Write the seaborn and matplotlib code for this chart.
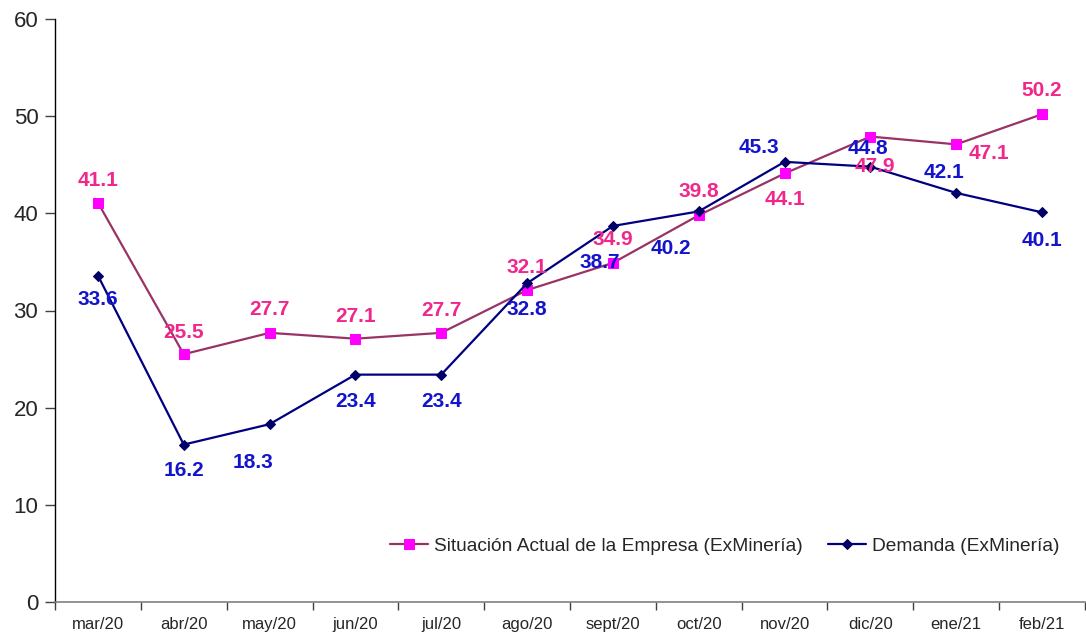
import matplotlib
matplotlib.use("Agg")
import matplotlib.pyplot as plt
import seaborn as sns
import pandas as pd
import numpy as np

months = ["mar/20", "abr/20", "may/20", "jun/20", "jul/20", "ago/20",
          "sept/20", "oct/20", "nov/20", "dic/20", "ene/21", "feb/21"]
situacion = [41.1, 25.5, 27.7, 27.1, 27.7, 32.1, 34.9, 39.8, 44.1, 47.9, 47.1, 50.2]
demanda = [33.6, 16.2, 18.3, 23.4, 23.4, 32.8, 38.7, 40.2, 45.3, 44.8, 42.1, 40.1]
name_sit = "Situación Actual de la Empresa (ExMinería)"
name_dem = "Demanda (ExMinería)"

# label offsets (pixels) relative to each point
off_sit = [(0, -22), (0, -22), (0, -23), (0, -22), (0, -22), (0, -23),
           (0, -23), (0, -24), (0, 26), (4, 30), (33, 9), (0, -24)]
off_dem = [(0, 24), (0, 26), (-17, 38), (0, 27), (0, 27), (0, 26),
           (-13, 37), (-28, 37), (-26, -14), (-2, -18), (-12, -20), (0, 28)]

sns.set_style("white")
plt.rcParams['font.family'] = ['Liberation Sans', 'DejaVu Sans']

fig = plt.figure(figsize=(10.86, 6.36), dpi=100)
ax = fig.add_axes([55/1086, 34/636, 1030/1086, 583/636])

df = pd.DataFrame({"x": np.arange(len(months)), "sit": situacion, "dem": demanda})

sns.lineplot(data=df, x="x", y="sit", ax=ax, color="#993366", linewidth=1.6,
             marker="s", markersize=7, markerfacecolor="#FF00FF",
             markeredgecolor="#FF00FF", label=name_sit)
sns.lineplot(data=df, x="x", y="dem", ax=ax, color="#000080", linewidth=1.6,
             marker="D", markersize=5, markerfacecolor="#000066",
             markeredgecolor="#000066", label=name_dem)

px = 0.72  # pixels -> points at 100 dpi
for i, v in enumerate(situacion):
    dx, dy = off_sit[i]
    ax.annotate(f"{v:.1f}", (i, v), xytext=(dx*px, -dy*px), textcoords="offset points",
                ha="center", va="center", fontsize=15, fontweight="bold", color="#F0288C")
for i, v in enumerate(demanda):
    dx, dy = off_dem[i]
    ax.annotate(f"{v:.1f}", (i, v), xytext=(dx*px, -dy*px), textcoords="offset points",
                ha="center", va="center", fontsize=15, fontweight="bold", color="#1414CC")

ax.set_xlim(-0.5, len(months) - 0.5)
ax.set_ylim(0, 60)
ax.set_yticks(range(0, 61, 10))
ax.tick_params(axis="y", direction="out", length=7, width=1, color="#404040",
               labelsize=16, pad=5, left=True)
ax.set_xticks(range(len(months)))
ax.set_xticklabels(months)
ax.set_xticks(np.arange(-0.5, len(months), 1), minor=True)
ax.tick_params(axis="x", which="major", length=0, labelsize=12, pad=11)
ax.tick_params(axis="x", which="minor", direction="out", length=6, width=1,
               color="#404040", bottom=True)
ax.set_xlabel("")
ax.set_ylabel("")

for s in ["top", "right"]:
    ax.spines[s].set_visible(False)
ax.spines["left"].set_color("black")
ax.spines["left"].set_linewidth(1)
ax.spines["bottom"].set_color("#808080")
ax.spines["bottom"].set_linewidth(1.2)

ax.legend(loc="center right", bbox_to_anchor=(0.975, 0.096), ncol=2, frameon=False,
          fontsize=13.8, handlelength=2.0, handletextpad=0.3, columnspacing=1.3,
          borderaxespad=0, borderpad=0)

fig.savefig("out.png", dpi=100)
